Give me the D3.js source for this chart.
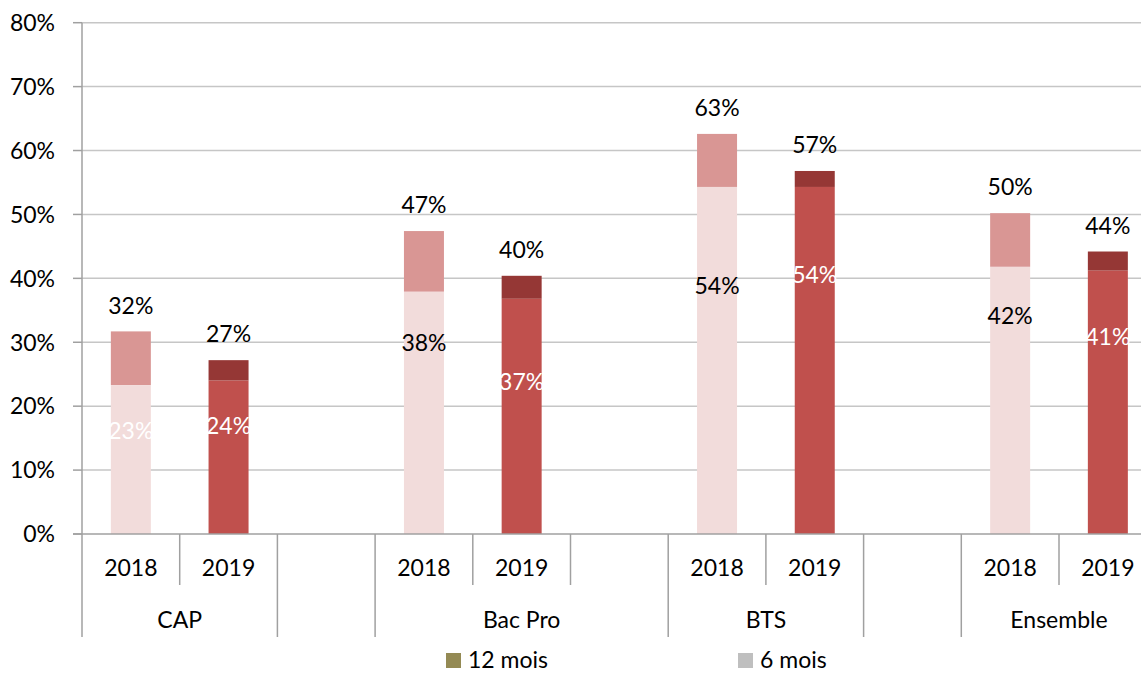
<!DOCTYPE html>
<html>
<head>
<meta charset="utf-8">
<script src="https://cdn.jsdelivr.net/npm/d3@7"></script>
<style>
  html, body { margin: 0; padding: 0; background: #fff; }
  svg { display: block; font-family: Lato, "Open Sans", sans-serif; }
</style>
</head>
<body>
<svg id="chart" width="1141" height="675"></svg>
<script>
// ---- Data ----
const groupLabels = ["CAP", "", "Bac Pro", "BTS", "", "Ensemble"];
const groupSizes = [2, 1, 3, 2, 1, 2];
const yearLabels = ["2018", "2019", "", "2018", "2019", "", "2018", "2019", "", "2018", "2019"];
const sixMonths = [23.3, 24.0, null, 37.9, 36.8, null, 54.3, 54.3, null, 41.8, 41.2];
const twelveMonths = [31.7, 27.2, null, 47.4, 40.4, null, 62.6, 56.8, null, 50.2, 44.2];
const sixLabelPos = [16.2, 16.9, null, 30.0, 23.9, null, 38.8, 40.6, null, 34.1, 30.8];
const yTicks = [0, 10, 20, 30, 40, 50, 60, 70, 80];
const legendLabels = ["12 mois", "6 mois"];
const legendColors = ["#948a54", "#bfbfbf"];
// colours per year: [bottom (6 mois), top (12 mois)], label colour in bottom segment
const yearColors = { "2018": ["#f2dcdb", "#d99694"], "2019": ["#c0504d", "#953735"] };
const sixLabelColors = ["#ffffff", "#ffffff", null, "#000000", "#ffffff", null, "#000000", "#ffffff", null, "#000000", "#ffffff"];

// ---- Layout ----
const svg = d3.select("#chart");
const x0 = 82, slotW = 97.7;
const idx = d3.range(yearLabels.length);
const x = d3.scaleBand().domain(idx).range([x0, x0 + slotW * idx.length]).padding(0);
const y = d3.scaleLinear().domain([0, 80]).range([534, 22.7]);
const barW = 40;
const fs = 23;

// gridlines
svg.append("g").selectAll("line").data(yTicks.filter(t => t > 0)).join("line")
  .attr("x1", x0).attr("x2", 1141)
  .attr("y1", d => y(d)).attr("y2", d => y(d))
  .attr("stroke", "#c6c6c6").attr("stroke-width", 1.5);

// bars
const bars = svg.append("g");
idx.forEach(i => {
  if (sixMonths[i] == null) return;
  const c = yearColors[yearLabels[i]];
  const bx = x(i) + (x.bandwidth() - barW) / 2;
  bars.append("rect").attr("x", bx).attr("width", barW)
    .attr("y", y(twelveMonths[i])).attr("height", y(sixMonths[i]) - y(twelveMonths[i]))
    .attr("fill", c[1]);
  bars.append("rect").attr("x", bx).attr("width", barW)
    .attr("y", y(sixMonths[i])).attr("height", y(0) - y(sixMonths[i]))
    .attr("fill", c[0]);
});

// y axis
const axisColor = "#a0a0a0";
svg.append("line").attr("x1", x0).attr("x2", x0).attr("y1", y(80)).attr("y2", y(0))
  .attr("stroke", axisColor).attr("stroke-width", 1.5);
svg.append("g").selectAll("line").data(yTicks).join("line")
  .attr("x1", 73).attr("x2", x0).attr("y1", d => y(d)).attr("y2", d => y(d))
  .attr("stroke", axisColor).attr("stroke-width", 1.5);
svg.append("g").selectAll("text").data(yTicks).join("text")
  .attr("x", 55).attr("y", d => y(d)).attr("dy", "0.36em")
  .attr("text-anchor", "end").attr("font-size", fs).attr("fill", "#000")
  .text(d => d + "%");

// x axis
svg.append("line").attr("x1", 73).attr("x2", 1141).attr("y1", y(0)).attr("y2", y(0))
  .attr("stroke", axisColor).attr("stroke-width", 1.5);
const groupBounds = [0];
groupSizes.forEach(s => groupBounds.push(groupBounds[groupBounds.length - 1] + s));
const boundaries = d3.range(yearLabels.length + 1);
svg.append("g").selectAll("line").data(boundaries).join("line")
  .attr("x1", b => x0 + b * x.bandwidth()).attr("x2", b => x0 + b * x.bandwidth())
  .attr("y1", y(0)).attr("y2", b => groupBounds.includes(b) ? 637 : 585)
  .attr("stroke", axisColor).attr("stroke-width", 1.5);
svg.append("g").selectAll("text").data(idx).join("text")
  .attr("x", i => x(i) + x.bandwidth() / 2).attr("y", 568).attr("dy", "0.36em")
  .attr("text-anchor", "middle").attr("font-size", fs).attr("fill", "#000")
  .text(i => yearLabels[i]);
svg.append("g").selectAll("text").data(groupLabels).join("text")
  .attr("x", (d, g) => x0 + (groupBounds[g] + groupBounds[g + 1]) / 2 * x.bandwidth())
  .attr("y", 620).attr("dy", "0.36em")
  .attr("text-anchor", "middle").attr("font-size", fs).attr("fill", "#000")
  .text(d => d);

// labels
const labels = svg.append("g").attr("font-size", fs).attr("text-anchor", "middle");
idx.forEach(i => {
  if (sixMonths[i] == null) return;
  const cx = x(i) + x.bandwidth() / 2;
  labels.append("text").attr("x", cx).attr("y", y(twelveMonths[i]) - 26).attr("dy", "0.36em")
    .attr("fill", "#000").text(Math.round(twelveMonths[i]) + "%");
  labels.append("text").attr("x", cx).attr("y", y(sixLabelPos[i])).attr("dy", "0.36em")
    .attr("fill", sixLabelColors[i]).text(Math.round(sixMonths[i]) + "%");
});

// legend
const legendX = [446, 738];
const lg = svg.append("g");
legendLabels.forEach((l, k) => {
  lg.append("rect").attr("x", legendX[k]).attr("y", 653).attr("width", 15).attr("height", 15)
    .attr("fill", legendColors[k]);
  lg.append("text").attr("x", legendX[k] + 22).attr("y", 660).attr("dy", "0.36em")
    .attr("font-size", fs).attr("fill", "#000").text(l);
});
</script>
</body>
</html>
